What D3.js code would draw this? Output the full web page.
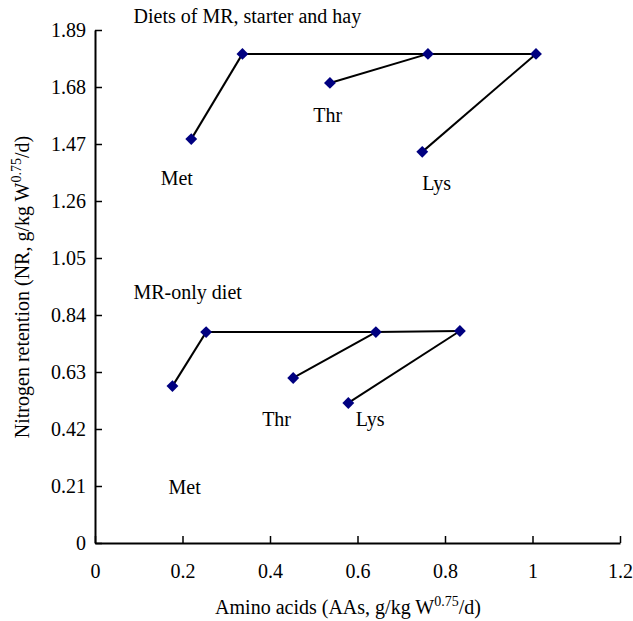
<!DOCTYPE html>
<html>
<head>
<meta charset="utf-8">
<script src="https://cdn.jsdelivr.net/npm/d3@7"></script>
<style>
  body { margin: 0; background: #fff; }
  svg text { font-family: "Liberation Serif", "Times New Roman", serif; fill: #000; }
  .tick text { font-size: 20px; }
  .axis-label { font-size: 20px; }
  .note { font-size: 20px; }
</style>
</head>
<body>
<div id="chart"></div>
<script>
// x ticks and y ticks
const xTicks = [0, 0.2, 0.4, 0.6, 0.8, 1, 1.2];
const yTicks = [0, 0.21, 0.42, 0.63, 0.84, 1.05, 1.26, 1.47, 1.68, 1.89];

// Diets of MR, starter and hay: [low point, high point] per amino acid
const upperMet = [[0.220, 1.488], [0.337, 1.802]];
const upperThr = [[0.537, 1.695], [0.761, 1.802]];
const upperLys = [[0.748, 1.441], [1.008, 1.802]];
const upperTop = [[0.337, 1.802], [0.761, 1.802], [1.008, 1.802]];

// MR-only diet
const lowerMet = [[0.177, 0.578], [0.254, 0.777]];
const lowerThr = [[0.453, 0.608], [0.642, 0.777]];
const lowerLys = [[0.579, 0.516], [0.834, 0.781]];
const lowerTop = [[0.254, 0.777], [0.642, 0.777], [0.834, 0.781]];

// text notes placed in data units
const notes = [
  {text: "Diets of MR, starter and hay", x: 0.088, y: 1.915},
  {text: "Met", x: 0.150, y: 1.32},
  {text: "Thr", x: 0.499, y: 1.55},
  {text: "Lys", x: 0.748, y: 1.30},
  {text: "MR-only diet", x: 0.088, y: 0.90},
  {text: "Thr", x: 0.382, y: 0.43},
  {text: "Lys", x: 0.596, y: 0.43},
  {text: "Met", x: 0.168, y: 0.18}
];

const margin = {top: 30, right: 13, bottom: 78, left: 95},
  width = 633 - margin.left - margin.right,
  height = 621 - margin.top - margin.bottom;

const svg = d3.select("#chart")
  .append("svg")
  .attr("width", 633)
  .attr("height", 621)
  .append("g")
  .attr("transform", `translate(${margin.left}, ${margin.top})`);

const x = d3.scaleLinear().domain([0, 1.2]).range([0, 525]);
const y = d3.scaleLinear().domain([0, 1.89]).range([height, 0]);

const xAxis = svg.append("g")
  .attr("transform", `translate(0, ${height})`)
  .call(d3.axisBottom(x).tickValues(xTicks).tickFormat(d3.format("")).tickSize(-7).tickSizeOuter(0).tickPadding(21));
const yAxis = svg.append("g")
  .call(d3.axisLeft(y).tickValues(yTicks).tickFormat(d => d === 0 ? "0" : d3.format(".2f")(d)).tickSize(-7).tickSizeOuter(0).tickPadding(9));

[xAxis, yAxis].forEach(a => {
  a.select(".domain").attr("stroke", "#000").attr("stroke-width", 2);
  a.selectAll(".tick line").attr("stroke", "#000").attr("stroke-width", 1.5);
});

const line = d3.line().x(d => x(d[0])).y(d => y(d[1]));
const segments = [upperMet, upperThr, upperLys, upperTop, lowerMet, lowerThr, lowerLys, lowerTop];

svg.append("g")
  .selectAll("path")
  .data(segments)
  .enter()
  .append("path")
    .attr("d", line)
    .attr("fill", "none")
    .attr("stroke", "#000")
    .attr("stroke-width", 2);

const points = [upperMet, upperThr, upperLys, lowerMet, lowerThr, lowerLys].flat();
svg.append("g")
  .selectAll("path")
  .data(points)
  .enter()
  .append("path")
    .attr("d", d3.symbol().type(d3.symbolDiamond2).size(90))
    .attr("transform", d => `translate(${x(d[0])}, ${y(d[1])})`)
    .attr("fill", "#000080");

svg.append("g")
  .selectAll("text")
  .data(notes)
  .enter()
  .append("text")
    .attr("class", "note")
    .attr("x", d => x(d.x))
    .attr("y", d => y(d.y))
    .text(d => d.text);

// axis titles
const xt = svg.append("text")
  .attr("class", "axis-label")
  .attr("text-anchor", "middle")
  .attr("x", 253)
  .attr("y", height + 71);
xt.append("tspan").text("Amino acids (AAs, g/kg W");
xt.append("tspan").attr("font-size", "14px").attr("dy", -8).text("0.75");
xt.append("tspan").attr("dy", 8).text("/d)");

const yt = svg.append("text")
  .attr("class", "axis-label")
  .attr("text-anchor", "middle")
  .attr("transform", "rotate(-90)")
  .attr("x", -257)
  .attr("y", -66);
yt.append("tspan").text("Nitrogen retention (NR, g/kg W");
yt.append("tspan").attr("font-size", "14px").attr("dy", -8).text("0.75");
yt.append("tspan").attr("dy", 8).text("/d)");
</script>
</body>
</html>
